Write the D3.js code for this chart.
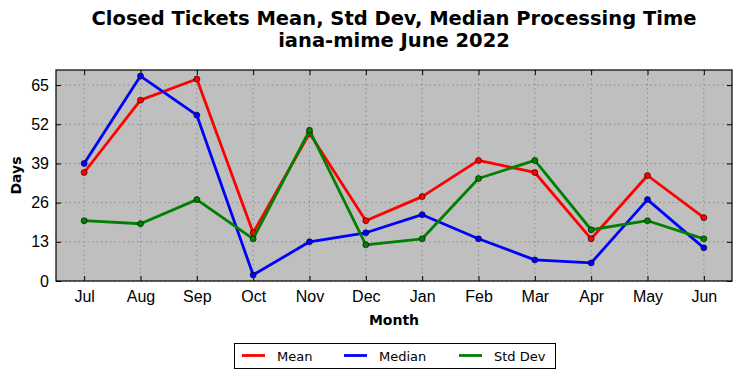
<!DOCTYPE html>
<html>
<head>
<meta charset="utf-8">
<script src="https://cdn.jsdelivr.net/npm/d3@7"></script>
<style>
  body { margin: 0; background: #fff; }
  svg { font-family: "DejaVu Sans", sans-serif; }
</style>
</head>
<body>
<div id="chart"></div>
<script>
const width = 742;
const height = 378;
const margin = {top: 70, right: 10, bottom: 97, left: 56};

const months = ["Jul", "Aug", "Sep", "Oct", "Nov", "Dec", "Jan", "Feb", "Mar", "Apr", "May", "Jun"];
const meanDays = [36, 60, 67, 16, 49, 20, 28, 40, 36, 14, 35, 21];
const medianDays = [39, 68, 55, 2, 13, 16, 22, 14, 7, 6, 27, 11];
const stdDays = [20, 19, 27, 14, 50, 12, 14, 34, 40, 17, 20, 14];
const yTicks = [0, 13, 26, 39, 52, 65];

const series = [
  {name: "Mean", color: "#ff0000", values: meanDays},
  {name: "Median", color: "#0000ff", values: medianDays},
  {name: "Std Dev", color: "#008000", values: stdDays}
];

const x = d3.scaleLinear()
  .domain([-0.5, months.length - 0.5])
  .range([margin.left, width - margin.right]);

const y = d3.scaleLinear()
  .domain([0, 70])
  .range([height - margin.bottom, margin.top]);

const svg = d3.select("#chart")
  .append("svg")
  .attr("width", width)
  .attr("height", height);

// plot background
svg.append("rect")
  .attr("x", margin.left)
  .attr("y", margin.top)
  .attr("width", width - margin.left - margin.right)
  .attr("height", height - margin.top - margin.bottom)
  .attr("fill", "#bfbfbf");

// grid
const grid = svg.append("g").attr("stroke", "#808080").attr("stroke-dasharray", "1.5,3").attr("stroke-width", 0.8);
grid.selectAll(".gx").data(months).join("line")
  .attr("x1", (d, i) => x(i)).attr("x2", (d, i) => x(i))
  .attr("y1", margin.top).attr("y2", height - margin.bottom);
grid.selectAll(".gy").data(yTicks).join("line")
  .attr("x1", margin.left).attr("x2", width - margin.right)
  .attr("y1", d => y(d)).attr("y2", d => y(d));

// axes: ticks inward, on all four sides
const xAxis = (g, axis, pos) => {
  g.attr("transform", `translate(0,${pos})`)
    .call(axis)
    .call(g => g.select(".domain").remove());
};
const monthIdx = d3.range(months.length);

svg.append("g")
  .call(xAxis, d3.axisBottom(x).tickValues(monthIdx).tickFormat(i => months[i]).tickSizeInner(-5).tickSizeOuter(0).tickPadding(10), height - margin.bottom)
  .call(g => g.selectAll("text").attr("font-size", 16).attr("fill", "#000"));
svg.append("g")
  .call(xAxis, d3.axisTop(x).tickValues(monthIdx).tickFormat("").tickSizeInner(-5).tickSizeOuter(0), margin.top);

svg.append("g")
  .attr("transform", `translate(${margin.left},0)`)
  .call(d3.axisLeft(y).tickValues(yTicks).tickSizeInner(-5).tickSizeOuter(0).tickPadding(7))
  .call(g => g.select(".domain").remove())
  .call(g => g.selectAll("text").attr("font-size", 16).attr("fill", "#000"));
svg.append("g")
  .attr("transform", `translate(${width - margin.right},0)`)
  .call(d3.axisRight(y).tickValues(yTicks).tickFormat("").tickSizeInner(-5).tickSizeOuter(0))
  .call(g => g.select(".domain").remove());

// lines and markers
const line = d3.line()
  .x((d, i) => x(i))
  .y(d => y(d));

const lines = svg.append("g");
series.forEach(s => {
  lines.append("path")
    .attr("d", line(s.values))
    .attr("fill", "none")
    .attr("stroke", s.color)
    .attr("stroke-width", 2.8)
    .attr("stroke-linejoin", "round");
  lines.selectAll(null)
    .data(s.values)
    .join("circle")
    .attr("cx", (d, i) => x(i))
    .attr("cy", d => y(d))
    .attr("r", 3)
    .attr("fill", s.color)
    .attr("stroke", "#000")
    .attr("stroke-width", 0.6);
});

// frame
svg.append("rect")
  .attr("x", margin.left)
  .attr("y", margin.top)
  .attr("width", width - margin.left - margin.right)
  .attr("height", height - margin.top - margin.bottom)
  .attr("fill", "none")
  .attr("stroke", "#000")
  .attr("stroke-width", 1.2);

// titles
const cx = (margin.left + width - margin.right) / 2;
svg.append("text")
  .attr("x", cx).attr("y", 25)
  .attr("text-anchor", "middle")
  .attr("font-size", 19.5).attr("font-weight", "bold")
  .text("Closed Tickets Mean, Std Dev, Median Processing Time");
svg.append("text")
  .attr("x", cx).attr("y", 47)
  .attr("text-anchor", "middle")
  .attr("font-size", 19.5).attr("font-weight", "bold")
  .text("iana-mime June 2022");

svg.append("text")
  .attr("x", cx).attr("y", 325)
  .attr("text-anchor", "middle")
  .attr("font-size", 14).attr("font-weight", "bold")
  .text("Month");

svg.append("text")
  .attr("transform", `translate(21,${(margin.top + height - margin.bottom) / 2}) rotate(-90)`)
  .attr("text-anchor", "middle")
  .attr("font-size", 14).attr("font-weight", "bold")
  .text("Days");

// legend
const legend = svg.append("g");
legend.append("rect")
  .attr("x", 234.5).attr("y", 343.5)
  .attr("width", 321).attr("height", 25)
  .attr("fill", "#fff").attr("stroke", "#000").attr("stroke-width", 1);
const legendX = [242, 344, 459];
series.forEach((s, i) => {
  legend.append("line")
    .attr("x1", legendX[i]).attr("x2", legendX[i] + 23)
    .attr("y1", 355.5).attr("y2", 355.5)
    .attr("stroke", s.color).attr("stroke-width", 2.8);
  legend.append("text")
    .attr("x", legendX[i] + 35).attr("y", 360.5)
    .attr("font-size", 13)
    .text(s.name);
});
</script>
</body>
</html>
